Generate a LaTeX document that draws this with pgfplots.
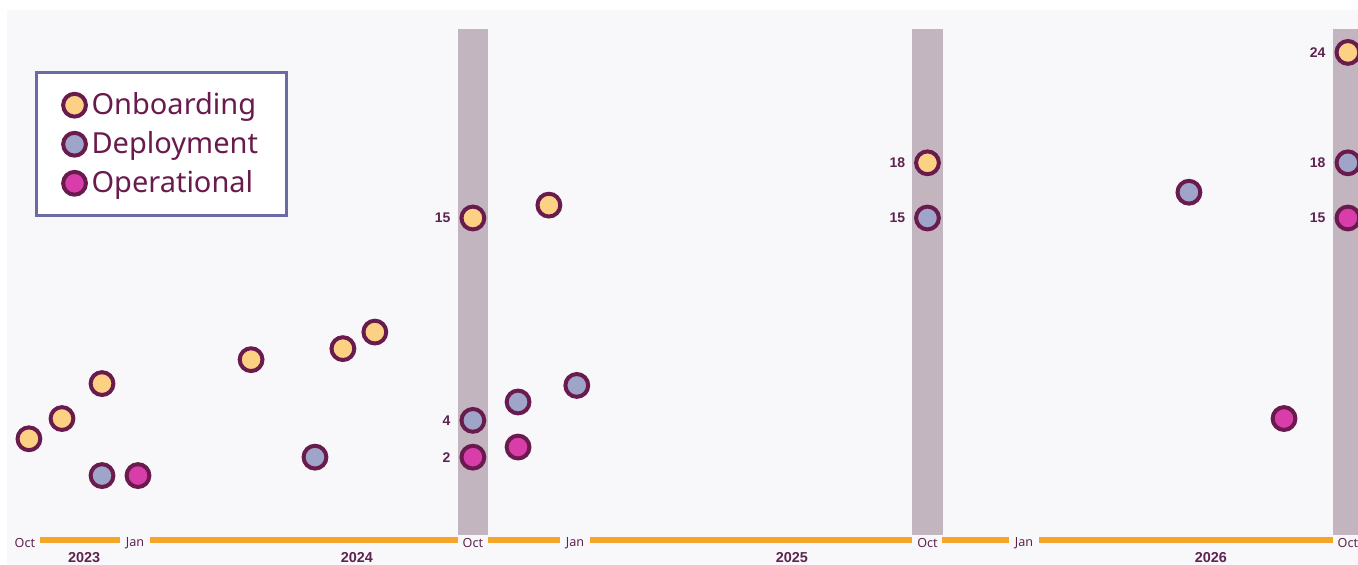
\documentclass[border=0pt]{standalone}
\usepackage{fontspec}
\setmainfont{Noto Sans}
\newfontfamily\numbf{Liberation Sans}
\usepackage{pgfplots}
\pgfplotsset{compat=1.18}
\definecolor{bgc}{HTML}{F8F8FA}
\definecolor{onb}{HTML}{FDD184}
\definecolor{dep}{HTML}{9FA4C9}
\definecolor{ope}{HTML}{D83DAA}
\definecolor{outl}{HTML}{6A1B4D}
\definecolor{barc}{HTML}{C3B5C0}
\definecolor{orng}{HTML}{F5A62A}
\definecolor{legb}{HTML}{6A6BA3}
\definecolor{txt}{HTML}{5E2350}
\begin{document}
\begin{tikzpicture}
\useasboundingbox (0,0) rectangle (679pt,282.5pt);
\clip (0,0) rectangle (679pt,282.5pt);
\fill[white] (0,0) rectangle (679pt,282.5pt);
\fill[bgc] (3.5pt,0) rectangle (679pt,277.5pt);
\begin{axis}[
  at={(0,0)}, anchor=south west,
  scale only axis, width=679pt, height=282.5pt,
  xmin=-0.708, xmax=36.275, ymin=-3.86, ymax=26.85,
  hide axis, clip=false,
  every axis plot/.append style={only marks, mark=*, mark size=5.7pt, line width=2pt, draw=outl, mark options={draw=outl, line width=2pt}},
  legend style={at={(0.0258,0.874)}, anchor=north west, draw=legb, line width=1.5pt, fill=white,
    font=\fontsize{14.5}{17}\selectfont\color{outl}, inner xsep=12pt, inner ysep=8pt,
    row sep=3pt, cells={anchor=west}},
  legend image code/.code={\path[draw=none] (-7pt,0pt) -- (6.5pt,0pt); \draw[#1] plot coordinates {(0pt,0pt)};},
]
% orange baseline
\draw[orng, line width=3pt] (axis cs:0.38,-2.5) -- (axis cs:35.8,-2.5);
% month labels (gaps in the baseline)
\begin{scope}[every node/.style={fill=bgc, text=txt, font=\fontsize{6.3}{7}\selectfont, minimum width=15pt, minimum height=9pt, inner sep=0pt}]
\node at (axis cs:-0.03,-2.66) {Oct};
\node at (axis cs:2.97,-2.66) {Jan};
\node at (axis cs:12.17,-2.66) {Oct};
\node at (axis cs:14.95,-2.66) {Jan};
\node at (axis cs:24.55,-2.66) {Oct};
\node at (axis cs:27.18,-2.66) {Jan};
\node at (axis cs:36.0,-2.66) {Oct};
\end{scope}
% year labels
\begin{scope}[every node/.style={text=txt, font=\fontsize{7.2}{8}\selectfont\numbf\bfseries, inner sep=0pt}]
\node at (axis cs:1.58,-3.45) {2023};
\node at (axis cs:9.01,-3.45) {2024};
\node at (axis cs:20.86,-3.45) {2025};
\node at (axis cs:32.27,-3.45) {2026};
\end{scope}
% highlight bars
\fill[barc] (axis cs:11.76,-2.23) rectangle (axis cs:12.58,25.27);
\fill[barc] (axis cs:24.14,-2.23) rectangle (axis cs:24.96,25.27);
\fill[barc] (axis cs:35.59,-2.23) rectangle (axis cs:36.41,25.27);

\addplot[fill=onb, mark options={fill=onb}] coordinates {
(0.08,3.0) (0.98,4.1) (2.07,6.0) (6.13,7.3) (8.63,7.9) (9.50,8.8)
(12.17,15) (14.24,15.7) (24.55,18) (36.0,24)};
\addlegendentry{Onboarding}
\addplot[fill=dep, mark options={fill=dep}] coordinates {
(2.07,1.0) (7.87,2.0) (12.17,4) (13.40,5.0) (15.0,5.9) (24.55,15) (31.67,16.4) (36.0,18)};
\addlegendentry{Deployment}
\addplot[fill=ope, mark options={fill=ope}] coordinates {
(3.05,1.0) (12.17,2) (13.40,2.55) (34.26,4.1) (36.0,15)};
\addlegendentry{Operational}

% value labels
\begin{scope}[every node/.style={anchor=east, text=txt, font=\fontsize{7}{8}\selectfont\numbf\bfseries, inner sep=0pt, xshift=-11pt}]
\node at (axis cs:12.17,15) {15};
\node at (axis cs:12.17,4) {4};
\node at (axis cs:12.17,2) {2};
\node at (axis cs:24.55,18) {18};
\node at (axis cs:24.55,15) {15};
\node at (axis cs:36.0,24) {24};
\node at (axis cs:36.0,18) {18};
\node at (axis cs:36.0,15) {15};
\end{scope}
\end{axis}
\end{tikzpicture}
\end{document}
